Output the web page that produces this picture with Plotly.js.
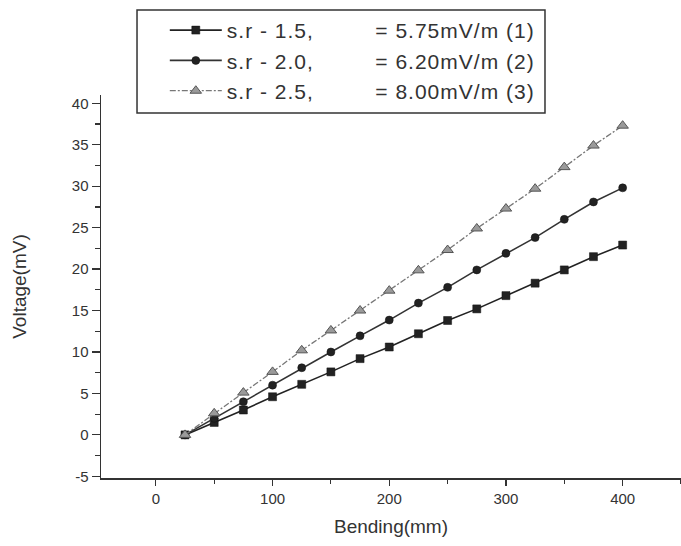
<!DOCTYPE html>
<html>
<head>
<meta charset="utf-8">
<script src="https://cdn.plot.ly/plotly-3.0.1.min.js"></script>
<style>
html,body{margin:0;padding:0;background:#fff;}
#chart{width:681px;height:546px;}
.legendtext{letter-spacing:1px;}
</style>
</head>
<body>
<div id="chart"></div>
<script>
// Bending (mm)
const bending = [25, 50, 75, 100, 125, 150, 175, 200, 225, 250, 275, 300, 325, 350, 375, 400];
// Voltage (mV) for each sample
const voltageSr15 = [0, 1.5, 3.0, 4.6, 6.1, 7.6, 9.2, 10.6, 12.2, 13.8, 15.2, 16.8, 18.3, 19.9, 21.5, 22.9];
const voltageSr20 = [0, 2.0, 4.0, 6.0, 8.1, 10.0, 11.95, 13.85, 15.9, 17.8, 19.9, 21.9, 23.8, 26.0, 28.1, 29.8];
const voltageSr25 = [0, 2.6, 5.1, 7.6, 10.2, 12.6, 15.0, 17.4, 19.85, 22.3, 24.9, 27.3, 29.7, 32.3, 34.9, 37.3];
const seriesNames = [
  "s.r - 1.5,\u00A0\u00A0\u00A0\u00A0\u00A0\u00A0\u00A0\u00A0\u00A0= 5.75mV/m (1)",
  "s.r - 2.0,\u00A0\u00A0\u00A0\u00A0\u00A0\u00A0\u00A0\u00A0\u00A0= 6.20mV/m (2)",
  "s.r - 2.5,\u00A0\u00A0\u00A0\u00A0\u00A0\u00A0\u00A0\u00A0\u00A0= 8.00mV/m (3)"
];
const xTickVals = [0, 100, 200, 300, 400];
const yTickVals = [-5, 0, 5, 10, 15, 20, 25, 30, 35, 40];

const traces = [
  {x: bending, y: voltageSr15, name: seriesNames[0], mode: 'lines+markers',
   line: {color: '#222', width: 1.6},
   marker: {symbol: 'square', size: 8, color: '#222', line: {color: '#111', width: 0.5}}},
  {x: bending, y: voltageSr20, name: seriesNames[1], mode: 'lines+markers',
   line: {color: '#333', width: 1.6},
   marker: {symbol: 'circle', size: 8, color: '#222', line: {color: '#111', width: 0.5}}},
  {x: bending, y: voltageSr25, name: seriesNames[2], mode: 'lines+markers',
   line: {color: '#777', width: 1.3, dash: '6px,2px,2px,2px'},
   marker: {symbol: 'triangle-up', size: 10, color: '#9a9a9a', line: {color: '#555', width: 1}}}
];

const fontFam = '"Liberation Sans", Arial, sans-serif';
const layout = {
  width: 681, height: 546,
  margin: {l: 101, r: 0, t: 95, b: 68},
  paper_bgcolor: '#fff', plot_bgcolor: '#fff',
  font: {family: fontFam, color: '#333'},
  showlegend: true,
  legend: {
    x: 0.110, y: 1.222, xanchor: 'left', yanchor: 'top',
    bgcolor: 'rgba(0,0,0,0)', borderwidth: 0,
    itemwidth: 52, font: {family: fontFam, size: 21, color: '#333'},
    tracegroupgap: 0
  },
  shapes: [{
    type: 'rect', xref: 'paper', yref: 'paper',
    x0: 0.0621, x1: 0.7655, y0: 0.953, y1: 1.222,
    line: {color: '#333', width: 1.5}, fillcolor: 'rgba(0,0,0,0)'
  }],
  xaxis: {
    range: [-47, 450],
    tickmode: 'array', tickvals: xTickVals, ticktext: xTickVals.map(String),
    ticks: 'outside', ticklen: 6, tickwidth: 1.2, tickcolor: '#333',
    minor: {dtick: 50, tick0: 0, ticks: 'outside', ticklen: 4, tickwidth: 1.2, tickcolor: '#333'},
    showline: true, linecolor: '#333', linewidth: 1.5,
    showgrid: false, zeroline: false,
    tickfont: {family: fontFam, size: 15, color: '#333'},
    title: {text: 'Bending(mm)', font: {family: fontFam, size: 19, color: '#333'}, standoff: 14}
  },
  yaxis: {
    range: [-5.2, 41],
    tickmode: 'array', tickvals: yTickVals, ticktext: yTickVals.map(String),
    ticks: 'outside', ticklen: 8, tickwidth: 1.2, tickcolor: '#333',
    minor: {dtick: 2.5, tick0: 0, ticks: 'outside', ticklen: 5, tickwidth: 1.2, tickcolor: '#333'},
    showline: true, linecolor: '#333', linewidth: 1.5,
    showgrid: false, zeroline: false,
    tickfont: {family: fontFam, size: 15, color: '#333'},
    title: {text: 'Voltage(mV)', font: {family: fontFam, size: 19, color: '#333'}, standoff: 40}
  }
};

Plotly.newPlot('chart', traces, layout, {staticPlot: true, displayModeBar: false});
</script>
</body>
</html>
